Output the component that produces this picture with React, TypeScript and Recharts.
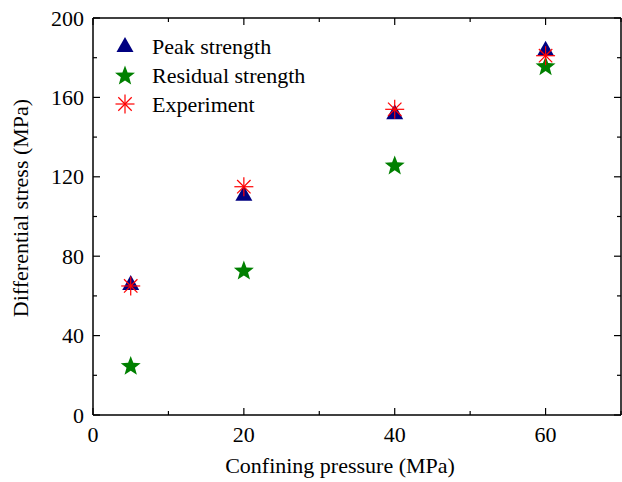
import React from 'react';
import { ScatterChart, Scatter, XAxis, YAxis, ReferenceLine } from 'recharts';

const pressures = [5, 20, 40, 60];
const peakStrength = [66, 111, 152, 184];
const residualStrength = [25, 73, 126, 176];
const experiment = [65, 115, 154, 181];
const xTicks = [0, 10, 20, 30, 40, 50, 60, 70];
const yTicks = [0, 20, 40, 60, 80, 100, 120, 140, 160, 180, 200];
const xLabeled = [0, 20, 40, 60];
const yLabeled = [0, 40, 80, 120, 160, 200];
const xDomain = [0, 70];
const yDomain = [0, 200];
const seriesNames = ['Peak strength', 'Residual strength', 'Experiment'];

const FONT = "'Liberation Serif', 'Times New Roman', serif";
const FS = 22;
const NAVY = '#000080';
const GREEN = '#008000';
const RED = '#ff0000';

const W = 622;
const H = 482;
const M = { top: 18, right: 1, bottom: 0, left: 0 };
const Y_AXIS_W = 93;
const X_AXIS_H = 67;
const PLOT_W = W - M.left - M.right - Y_AXIS_W;
const PLOT_H = H - M.top - M.bottom - X_AXIS_H;

const peakData = pressures.map((p, i) => ({ x: p, y: peakStrength[i] }));
const residualData = pressures.map((p, i) => ({ x: p, y: residualStrength[i] }));
const expData = pressures.map((p, i) => ({ x: p, y: experiment[i] }));

const TriangleMark = ({ cx, cy, s = 1 }: any) => {
  const w = 17 * s;
  const h = 15 * s;
  return (
    <polygon
      points={`${cx},${cy - h * 0.6} ${cx - w / 2},${cy + h * 0.4} ${cx + w / 2},${cy + h * 0.4}`}
      fill={NAVY}
    />
  );
};

const StarMark = ({ cx, cy, s = 1 }: any) => {
  const R = 10.5 * s;
  const r = R * 0.42;
  const pts: string[] = [];
  for (let i = 0; i < 10; i++) {
    const a = -Math.PI / 2 + (i * Math.PI) / 5;
    const rr = i % 2 === 0 ? R : r;
    pts.push(`${cx + rr * Math.cos(a)},${cy + 1 + rr * Math.sin(a)}`);
  }
  return <polygon points={pts.join(' ')} fill={GREEN} />;
};

const AsteriskMark = ({ cx, cy, s = 1 }: any) => {
  const R = 9.5 * s;
  const lines = [];
  for (let i = 0; i < 4; i++) {
    const a = (i * Math.PI) / 4;
    lines.push(
      <line
        key={i}
        x1={cx - R * Math.cos(a)}
        y1={cy - R * Math.sin(a)}
        x2={cx + R * Math.cos(a)}
        y2={cy + R * Math.sin(a)}
        stroke={RED}
        strokeWidth={1.2}
      />
    );
  }
  return <g>{lines}</g>;
};

const tickStroke = { stroke: '#000', strokeWidth: 1.2 };

const XTick = (props: any) => {
  const { x, y, payload } = props;
  const v = payload.value;
  const major = xLabeled.includes(v);
  const len = major ? 7 : 4;
  const yTop = y - PLOT_H;
  return (
    <g>
      <line x1={x} y1={y} x2={x} y2={y - len} {...tickStroke} />
      <line x1={x} y1={yTop} x2={x} y2={yTop + len} {...tickStroke} />
      {major && (
        <text x={x} y={y + 27} textAnchor="middle" fontFamily={FONT} fontSize={FS} fill="#000">
          {v}
        </text>
      )}
    </g>
  );
};

const YTick = (props: any) => {
  const { x, y, payload } = props;
  const v = payload.value;
  const major = yLabeled.includes(v);
  const len = major ? 7 : 4;
  const xRight = x + PLOT_W;
  return (
    <g>
      <line x1={x} y1={y} x2={x + len} y2={y} {...tickStroke} />
      <line x1={xRight} y1={y} x2={xRight - len} y2={y} {...tickStroke} />
      {major && (
        <text x={x - 9} y={y + 7.5} textAnchor="end" fontFamily={FONT} fontSize={FS} fill="#000">
          {v}
        </text>
      )}
    </g>
  );
};

const legendMarks = [TriangleMark, StarMark, AsteriskMark];

export default function App() {
  return (
    <div style={{ position: 'absolute', left: 0, top: 0, width: W, height: H, background: '#fff' }}>
      <ScatterChart width={W} height={H} margin={M}>
        <XAxis
          type="number"
          dataKey="x"
          domain={xDomain}
          ticks={xTicks}
          interval={0}
          height={X_AXIS_H}
          tickSize={0}
          tickMargin={0}
          tickLine={false}
          axisLine={{ stroke: '#000', strokeWidth: 1.5 }}
          tick={<XTick />}
          allowDataOverflow
        />
        <YAxis
          type="number"
          dataKey="y"
          domain={yDomain}
          ticks={yTicks}
          interval={0}
          width={Y_AXIS_W}
          tickSize={0}
          tickMargin={0}
          tickLine={false}
          axisLine={{ stroke: '#000', strokeWidth: 1.5 }}
          tick={<YTick />}
          allowDataOverflow
        />
        <ReferenceLine y={yDomain[1]} stroke="#000" strokeWidth={1.5} ifOverflow="visible" />
        <ReferenceLine x={xDomain[1]} stroke="#000" strokeWidth={1.5} ifOverflow="visible" />
        <Scatter
          name={seriesNames[0]}
          data={peakData}
          isAnimationActive={false}
          shape={(p: any) => <TriangleMark cx={p.cx} cy={p.cy} />}
        />
        <Scatter
          name={seriesNames[1]}
          data={residualData}
          isAnimationActive={false}
          shape={(p: any) => <StarMark cx={p.cx} cy={p.cy} />}
        />
        <Scatter
          name={seriesNames[2]}
          data={expData}
          isAnimationActive={false}
          shape={(p: any) => <AsteriskMark cx={p.cx} cy={p.cy} />}
        />
        <text x={340} y={473} textAnchor="middle" fontFamily={FONT} fontSize={FS} fill="#000">
          Confining pressure (MPa)
        </text>
        <text
          x={28}
          y={208}
          textAnchor="middle"
          fontFamily={FONT}
          fontSize={FS}
          fill="#000"
          transform="rotate(-90 28 208)"
        >
          Differential stress (MPa)
        </text>
      </ScatterChart>
      <svg width={280} height={100} style={{ position: 'absolute', left: 100, top: 28 }}>
        {seriesNames.map((name, i) => {
          const Mk = legendMarks[i];
          const cy = 18 + i * 29;
          return (
            <g key={name}>
              <Mk cx={25} cy={cy} />
              <text x={52} y={cy + 7.5} fontFamily={FONT} fontSize={FS} fill="#000">
                {name}
              </text>
            </g>
          );
        })}
      </svg>
    </div>
  );
}
